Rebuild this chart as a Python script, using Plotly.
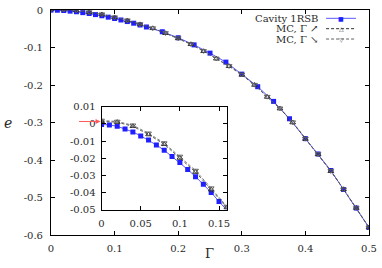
import plotly.graph_objects as go

# ---------------- data ----------------
gamma_cav = [0.00, 0.01, 0.02, 0.03, 0.04, 0.05, 0.06, 0.07, 0.08, 0.09, 0.10,
             0.11, 0.12, 0.13, 0.14, 0.15, 0.175, 0.20, 0.225, 0.25, 0.275,
             0.30, 0.325, 0.35, 0.375, 0.40, 0.42, 0.44, 0.46, 0.48, 0.50]
e_cav = [-0.0003, -0.0006, -0.0014, -0.0030, -0.0047, -0.0070, -0.0094, -0.0123,
         -0.0154, -0.0191, -0.0226, -0.0266, -0.0308, -0.0352, -0.0400, -0.0453,
         -0.058, -0.074, -0.093, -0.115, -0.139, -0.171, -0.2045, -0.2437, -0.290,
         -0.343, -0.384, -0.428, -0.4786, -0.528, -0.580]

gamma_mc = [0.00, 0.02, 0.04, 0.06, 0.08, 0.10, 0.12, 0.14, 0.16, 0.18, 0.20,
            0.22, 0.24, 0.26, 0.28, 0.30, 0.32, 0.34, 0.36, 0.38, 0.40, 0.42,
            0.44, 0.46, 0.48, 0.50]
e_mc_up = [0.0015, 0.0010, -0.0014, -0.0062, -0.0119, -0.0199, -0.0281, -0.0384,
           -0.0489, -0.0620, -0.0757, -0.0914, -0.110, -0.130, -0.150, -0.173,
           -0.200, -0.232, -0.263, -0.300, -0.344, -0.385, -0.430, -0.478,
           -0.528, -0.580]
e_mc_down = [0.0020, 0.0014, -0.0008, -0.0055, -0.0112, -0.0190, -0.0272, -0.0375,
             -0.0482, -0.0612, -0.0750, -0.0905, -0.109, -0.129, -0.149, -0.172,
             -0.199, -0.231, -0.262, -0.299, -0.343, -0.384, -0.429, -0.478,
             -0.528, -0.580]

series_names = ["Cavity 1RSB", "MC, \u0393 \u2197", "MC, \u0393 \u2198"]

main_x_ticks = [0, 0.1, 0.2, 0.3, 0.4, 0.5]
main_x_labels = ["0", "0.1", "0.2", "0.3", "0.4", "0.5"]
main_y_ticks = [0, -0.1, -0.2, -0.3, -0.4, -0.5, -0.6]
main_y_labels = ["0", "-0.1", "-0.2", "-0.3", "-0.4", "-0.5", "-0.6"]
inset_x_ticks = [0, 0.05, 0.1, 0.15]
inset_x_labels = ["0", "0.05", "0.1", "0.15"]
inset_y_ticks = [0.01, 0, -0.01, -0.02, -0.03, -0.04, -0.05]
inset_y_labels = ["0.01", "0", "-0.01", "-0.02", "-0.03", "-0.04", "-0.05"]

# ---------------- styles ----------------
FONT = "DejaVu Serif"
TXT = "#2a2a2a"
BLUE = "#1f1fff"
LINEBLUE = "#5a5aff"
MC_UP = "#303030"
MC_DN = "#606060"

fig = go.Figure()

for xa, ya in [("x", "y"), ("x2", "y2")]:
    fig.add_trace(go.Scatter(x=gamma_cav, y=e_cav, mode="lines+markers",
                             line=dict(color=LINEBLUE, width=1),
                             marker=dict(symbol="square", size=5, color=BLUE,
                                         line=dict(width=0)),
                             xaxis=xa, yaxis=ya, showlegend=False))
    fig.add_trace(go.Scatter(x=gamma_mc, y=e_mc_up, mode="lines+markers",
                             line=dict(color=MC_UP, width=0.8, dash="3px,2px"),
                             marker=dict(symbol="triangle-up-open", size=5, color=MC_UP,
                                         line=dict(width=1)),
                             xaxis=xa, yaxis=ya, showlegend=False))
    fig.add_trace(go.Scatter(x=gamma_mc, y=e_mc_down, mode="lines+markers",
                             line=dict(color=MC_DN, width=0.8, dash="3px,2px"),
                             marker=dict(symbol="triangle-down-open", size=5, color=MC_DN,
                                         line=dict(width=1)),
                             xaxis=xa, yaxis=ya, showlegend=False))

def axis_common(standoff):
    return dict(showgrid=False, zeroline=False, showline=True, linecolor="black",
                linewidth=1, mirror="ticks", ticks="inside", ticklen=4,
                tickcolor="black", ticklabelstandoff=standoff,
                tickfont=dict(family=FONT, size=10, color=TXT))

fig.update_layout(
    width=382, height=268,
    margin=dict(l=51, r=11, t=5, b=33),
    paper_bgcolor="white", plot_bgcolor="white",
    font=dict(family=FONT, size=10, color=TXT),
    xaxis=dict(domain=[0, 1], range=[0, 0.5], tickvals=main_x_ticks,
               ticktext=main_x_labels, anchor="y", **axis_common(4)),
    yaxis=dict(domain=[0, 1], range=[-0.6, 0], tickvals=main_y_ticks,
               ticktext=main_y_labels, anchor="x", **axis_common(5)),
    xaxis2=dict(domain=[0.159, 0.553], range=[0, 0.16], tickvals=inset_x_ticks,
                ticktext=inset_x_labels, anchor="y2", **axis_common(4)),
    yaxis2=dict(domain=[0.113, 0.57], range=[-0.05, 0.01], tickvals=inset_y_ticks,
                ticktext=inset_y_labels, anchor="x2", **axis_common(3)),
)

annotations = [
    dict(text="\u0393", x=0.497, y=-0.083, xref="paper", yref="paper",
         showarrow=False, font=dict(family=FONT, size=13, color=TXT),
         xanchor="center", yanchor="middle"),
    dict(text="<i>e</i>", x=-0.134, y=0.5, xref="paper", yref="paper",
         showarrow=False, font=dict(family=FONT, size=14, color=TXT),
         xanchor="center", yanchor="middle"),
    dict(text="", x=0, y=0.0014, xref="x2", yref="y2", ax=-24, ay=0,
         showarrow=True, arrowhead=2, arrowsize=1, arrowwidth=1,
         arrowcolor="#ff5a5a", standoff=1),
]

# legend (gnuplot style: text right-aligned, sample on the right)
leg_rows = [0.963, 0.917, 0.871]
leg_colors = [LINEBLUE, MC_UP, MC_DN]
leg_marks = ["\u25A0", "\u25B3", "\u25BD"]
leg_mark_colors = [BLUE, MC_UP, MC_DN]
shapes = []
for i, name in enumerate(series_names):
    annotations.append(dict(text=name, x=0.847, y=leg_rows[i], xref="paper",
                            yref="paper", showarrow=False, xanchor="right",
                            yanchor="middle",
                            font=dict(family=FONT, size=10, color=TXT)))
    shapes.append(dict(type="line", xref="paper", yref="paper", x0=0.865, x1=0.959,
                       y0=leg_rows[i], y1=leg_rows[i],
                       line=dict(color=leg_colors[i], width=1,
                                 dash="solid" if i == 0 else "3px,2px")))
    annotations.append(dict(text=leg_marks[i], x=0.912, y=leg_rows[i], xref="paper",
                            yref="paper", showarrow=False, xanchor="center",
                            yanchor="middle",
                            font=dict(family="DejaVu Sans", size=6,
                                      color=leg_mark_colors[i])))

fig.update_layout(annotations=annotations, shapes=shapes)

fig.write_html("out.html", config={"displayModeBar": False},
               post_script="document.body.style.margin='0';document.body.style.padding='0';")
